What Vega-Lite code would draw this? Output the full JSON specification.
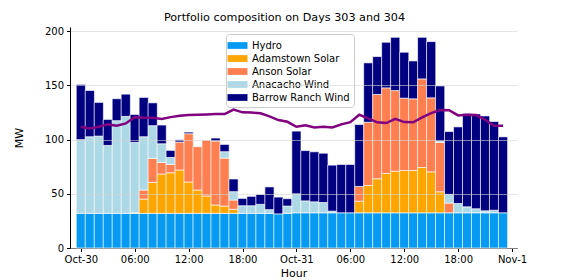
{
  "$schema": "https://vega.github.io/schema/vega-lite/v6.json",
  "width": 447,
  "height": 221,
  "autosize": "none",
  "padding": {"left": 70, "top": 27, "right": 51, "bottom": 32},
  "background": "white",
  "config": {
    "font": "DejaVu Sans",
    "view": {"stroke": null},
    "axis": {"labelFont": "DejaVu Sans", "titleFont": "DejaVu Sans", "labelFontSize": 10, "titleFontSize": 11, "titleFontWeight": "normal", "labelColor": "black", "titleColor": "black", "domainColor": "black", "tickColor": "black", "tickSize": 3.5, "labelPadding": 3},
    "legend": {"labelFont": "DejaVu Sans", "labelFontSize": 10, "labelColor": "black"}
  },
  "title": {"text": "Portfolio composition on Days 303 and 304", "fontSize": 11.2, "font": "DejaVu Sans", "fontWeight": "normal", "color": "black", "anchor": "middle", "dx": -9, "offset": 3},
  "datasets": {
    "gen": [
      {"h":0,"s":"Hydro","mw":32},{"h":0,"s":"Anacacho Wind","mw":68},{"h":0,"s":"Barrow Ranch Wind","mw":51},
      {"h":1,"s":"Hydro","mw":32},{"h":1,"s":"Anacacho Wind","mw":70.7},{"h":1,"s":"Barrow Ranch Wind","mw":42.7},
      {"h":2,"s":"Hydro","mw":32},{"h":2,"s":"Anacacho Wind","mw":71.3},{"h":2,"s":"Barrow Ranch Wind","mw":31.1},
      {"h":3,"s":"Hydro","mw":32},{"h":3,"s":"Anacacho Wind","mw":62.7},{"h":3,"s":"Barrow Ranch Wind","mw":24},
      {"h":4,"s":"Hydro","mw":32},{"h":4,"s":"Anacacho Wind","mw":85.5},{"h":4,"s":"Barrow Ranch Wind","mw":20.3},
      {"h":5,"s":"Hydro","mw":32},{"h":5,"s":"Anacacho Wind","mw":89.5},{"h":5,"s":"Barrow Ranch Wind","mw":20.5},
      {"h":6,"s":"Hydro","mw":32},{"h":6,"s":"Adamstown Solar","mw":0.5},{"h":6,"s":"Anacacho Wind","mw":65},{"h":6,"s":"Barrow Ranch Wind","mw":25.8},
      {"h":7,"s":"Hydro","mw":32},{"h":7,"s":"Adamstown Solar","mw":13.2},{"h":7,"s":"Anson Solar","mw":8.3},{"h":7,"s":"Anacacho Wind","mw":49.2},{"h":7,"s":"Barrow Ranch Wind","mw":36.3},
      {"h":8,"s":"Hydro","mw":32},{"h":8,"s":"Adamstown Solar","mw":28.6},{"h":8,"s":"Anson Solar","mw":22.1},{"h":8,"s":"Anacacho Wind","mw":30.2},{"h":8,"s":"Barrow Ranch Wind","mw":21.1},
      {"h":9,"s":"Hydro","mw":32},{"h":9,"s":"Adamstown Solar","mw":36.3},{"h":9,"s":"Anson Solar","mw":10.7},{"h":9,"s":"Anacacho Wind","mw":17.2},{"h":9,"s":"Barrow Ranch Wind","mw":17.3},
      {"h":10,"s":"Hydro","mw":32},{"h":10,"s":"Adamstown Solar","mw":37.5},{"h":10,"s":"Anson Solar","mw":7.7},{"h":10,"s":"Anacacho Wind","mw":6.4},{"h":10,"s":"Barrow Ranch Wind","mw":6.5},
      {"h":11,"s":"Hydro","mw":32},{"h":11,"s":"Adamstown Solar","mw":40},{"h":11,"s":"Anson Solar","mw":25.8},{"h":11,"s":"Barrow Ranch Wind","mw":2.1},
      {"h":12,"s":"Hydro","mw":32},{"h":12,"s":"Adamstown Solar","mw":28.9},{"h":12,"s":"Anson Solar","mw":44.6},{"h":12,"s":"Barrow Ranch Wind","mw":1.5},
      {"h":13,"s":"Hydro","mw":32},{"h":13,"s":"Adamstown Solar","mw":21.5},{"h":13,"s":"Anson Solar","mw":40},
      {"h":14,"s":"Hydro","mw":32},{"h":14,"s":"Adamstown Solar","mw":16},{"h":14,"s":"Anson Solar","mw":51.6},
      {"h":15,"s":"Hydro","mw":32},{"h":15,"s":"Adamstown Solar","mw":7.7},{"h":15,"s":"Anson Solar","mw":59},{"h":15,"s":"Barrow Ranch Wind","mw":2.8},
      {"h":16,"s":"Hydro","mw":32},{"h":16,"s":"Adamstown Solar","mw":6.7},{"h":16,"s":"Anson Solar","mw":44.3},{"h":16,"s":"Anacacho Wind","mw":5.9},{"h":16,"s":"Barrow Ranch Wind","mw":6.7},
      {"h":17,"s":"Hydro","mw":32},{"h":17,"s":"Adamstown Solar","mw":3.7},{"h":17,"s":"Anson Solar","mw":8.6},{"h":17,"s":"Anacacho Wind","mw":7.7},{"h":17,"s":"Barrow Ranch Wind","mw":11.7},
      {"h":18,"s":"Hydro","mw":32},{"h":18,"s":"Anacacho Wind","mw":7},{"h":18,"s":"Barrow Ranch Wind","mw":6.8},
      {"h":19,"s":"Hydro","mw":32},{"h":19,"s":"Anacacho Wind","mw":7},{"h":19,"s":"Barrow Ranch Wind","mw":8.7},
      {"h":20,"s":"Hydro","mw":32},{"h":20,"s":"Anacacho Wind","mw":8.3},{"h":20,"s":"Barrow Ranch Wind","mw":9.2},
      {"h":21,"s":"Hydro","mw":32},{"h":21,"s":"Anacacho Wind","mw":3.4},{"h":21,"s":"Barrow Ranch Wind","mw":21},
      {"h":22,"s":"Hydro","mw":31.5},{"h":22,"s":"Barrow Ranch Wind","mw":15.5},
      {"h":23,"s":"Hydro","mw":32},{"h":23,"s":"Anacacho Wind","mw":6.7},{"h":23,"s":"Barrow Ranch Wind","mw":6.8},
      {"h":24,"s":"Hydro","mw":32.5},{"h":24,"s":"Anacacho Wind","mw":17.5},{"h":24,"s":"Barrow Ranch Wind","mw":57.9},
      {"h":25,"s":"Hydro","mw":32.5},{"h":25,"s":"Anacacho Wind","mw":11},{"h":25,"s":"Barrow Ranch Wind","mw":46.4},
      {"h":26,"s":"Hydro","mw":32.5},{"h":26,"s":"Anacacho Wind","mw":10.1},{"h":26,"s":"Barrow Ranch Wind","mw":46.2},
      {"h":27,"s":"Hydro","mw":32.5},{"h":27,"s":"Anacacho Wind","mw":9.5},{"h":27,"s":"Barrow Ranch Wind","mw":45.5},
      {"h":28,"s":"Hydro","mw":32.5},{"h":28,"s":"Anacacho Wind","mw":1.5},{"h":28,"s":"Barrow Ranch Wind","mw":42.5},
      {"h":29,"s":"Hydro","mw":32.5},{"h":29,"s":"Barrow Ranch Wind","mw":44.6},
      {"h":30,"s":"Hydro","mw":32.5},{"h":30,"s":"Barrow Ranch Wind","mw":44.6},
      {"h":31,"s":"Hydro","mw":32.5},{"h":31,"s":"Adamstown Solar","mw":10.7},{"h":31,"s":"Anson Solar","mw":13.6},{"h":31,"s":"Barrow Ranch Wind","mw":57.2},
      {"h":32,"s":"Hydro","mw":32.5},{"h":32,"s":"Adamstown Solar","mw":25.2},{"h":32,"s":"Anson Solar","mw":58.4},{"h":32,"s":"Barrow Ranch Wind","mw":54.8},
      {"h":33,"s":"Hydro","mw":32.5},{"h":33,"s":"Adamstown Solar","mw":31.4},{"h":33,"s":"Anson Solar","mw":77.8},{"h":33,"s":"Barrow Ranch Wind","mw":35},
      {"h":34,"s":"Hydro","mw":32.5},{"h":34,"s":"Adamstown Solar","mw":36.3},{"h":34,"s":"Anson Solar","mw":79},{"h":34,"s":"Barrow Ranch Wind","mw":42.1},
      {"h":35,"s":"Hydro","mw":32.5},{"h":35,"s":"Adamstown Solar","mw":38.4},{"h":35,"s":"Anson Solar","mw":74.4},{"h":35,"s":"Barrow Ranch Wind","mw":49.2},
      {"h":36,"s":"Hydro","mw":32.5},{"h":36,"s":"Adamstown Solar","mw":39},{"h":36,"s":"Anson Solar","mw":66.8},{"h":36,"s":"Barrow Ranch Wind","mw":42.4},
      {"h":37,"s":"Hydro","mw":32.5},{"h":37,"s":"Adamstown Solar","mw":39},{"h":37,"s":"Anson Solar","mw":66.2},{"h":37,"s":"Barrow Ranch Wind","mw":35},
      {"h":38,"s":"Hydro","mw":32.5},{"h":38,"s":"Adamstown Solar","mw":41.8},{"h":38,"s":"Anson Solar","mw":81.8},{"h":38,"s":"Barrow Ranch Wind","mw":38.4},
      {"h":39,"s":"Hydro","mw":32.5},{"h":39,"s":"Adamstown Solar","mw":37.8},{"h":39,"s":"Anson Solar","mw":68.3},{"h":39,"s":"Barrow Ranch Wind","mw":51.9},
      {"h":40,"s":"Hydro","mw":32.5},{"h":40,"s":"Adamstown Solar","mw":19.4},{"h":40,"s":"Anson Solar","mw":45.5},{"h":40,"s":"Anacacho Wind","mw":1.2},{"h":40,"s":"Barrow Ranch Wind","mw":51},
      {"h":41,"s":"Hydro","mw":32.5},{"h":41,"s":"Anson Solar","mw":9},{"h":41,"s":"Anacacho Wind","mw":8},{"h":41,"s":"Barrow Ranch Wind","mw":58},
      {"h":42,"s":"Hydro","mw":32.5},{"h":42,"s":"Anacacho Wind","mw":8.6},{"h":42,"s":"Barrow Ranch Wind","mw":70.7},
      {"h":43,"s":"Hydro","mw":32.5},{"h":43,"s":"Anacacho Wind","mw":5.5},{"h":43,"s":"Barrow Ranch Wind","mw":86.1},
      {"h":44,"s":"Hydro","mw":32.5},{"h":44,"s":"Anacacho Wind","mw":3.7},{"h":44,"s":"Barrow Ranch Wind","mw":87.6},
      {"h":45,"s":"Hydro","mw":32.5},{"h":45,"s":"Anacacho Wind","mw":1.8},{"h":45,"s":"Barrow Ranch Wind","mw":87.6},
      {"h":46,"s":"Hydro","mw":32.5},{"h":46,"s":"Anacacho Wind","mw":2.4},{"h":46,"s":"Barrow Ranch Wind","mw":81.8},
      {"h":47,"s":"Hydro","mw":32.5},{"h":47,"s":"Barrow Ranch Wind","mw":70.1}
    ],
    "load": [
      {"h":0,"v":111.9},{"h":1,"v":110.4},{"h":2,"v":111.9},{"h":3,"v":114.1},{"h":4,"v":112.9},{"h":5,"v":115},
      {"h":6,"v":120.8},{"h":7,"v":120.2},{"h":8,"v":120.2},{"h":9,"v":119},{"h":10,"v":120.8},{"h":11,"v":122},
      {"h":12,"v":122.7},{"h":13,"v":123},{"h":14,"v":123.3},{"h":15,"v":123.6},{"h":16,"v":123.6},{"h":17,"v":127.8},
      {"h":18,"v":125.2},{"h":19,"v":125},{"h":20,"v":124.4},{"h":21,"v":121.5},{"h":22,"v":118.1},{"h":23,"v":116.5},
      {"h":24,"v":111.9},{"h":25,"v":113.2},{"h":26,"v":111.3},{"h":27,"v":111.9},{"h":28,"v":111.3},{"h":29,"v":114.1},
      {"h":30,"v":116.2},{"h":31,"v":123},{"h":32,"v":119.6},{"h":33,"v":116},{"h":34,"v":115.3},{"h":35,"v":119.3},
      {"h":36,"v":116.2},{"h":37,"v":116},{"h":38,"v":120.5},{"h":39,"v":124.5},{"h":40,"v":127.4},{"h":41,"v":127.2},
      {"h":42,"v":122.4},{"h":43,"v":123},{"h":44,"v":122.7},{"h":45,"v":118.4},{"h":46,"v":112.9},{"h":47,"v":112.9}
    ]
  },
  "layer": [
    {
      "data": {"name": "gen"},
      "transform": [
        {"calculate": "indexof(['Hydro', 'Adamstown Solar', 'Anson Solar', 'Anacacho Wind', 'Barrow Ranch Wind'], datum.s)", "as": "rank"}
      ],
      "mark": {"type": "bar", "width": 9.19, "stroke": "white", "strokeWidth": 0.8, "strokeOpacity": 0.8},
      "encoding": {
        "x": {"field": "h", "type": "quantitative", "scale": {"domain": [-0.65, 48], "nice": false, "zero": false},
              "axis": {"title": "Hour", "titlePadding": 3, "grid": false, "values": [0, 6, 12, 18, 24, 30, 36, 42, 48],
                       "labelExpr": "datum.value == 0 ? 'Oct-30' : datum.value == 24 ? 'Oct-31' : datum.value == 48 ? 'Nov-1' : (datum.value % 24 == 6 ? '06:00' : datum.value % 24 == 12 ? '12:00' : '18:00')"}},
        "y": {"field": "mw", "type": "quantitative", "stack": "zero", "scale": {"domain": [0, 204], "nice": false},
              "axis": {"title": "MW", "titlePadding": 20, "values": [0, 25, 50, 75, 100, 125, 150, 175, 200], "grid": true, "gridColor": "#d3d3d3", "gridOpacity": 0.6, "zindex": 1}},
        "order": {"field": "rank", "type": "quantitative", "sort": "ascending"},
        "color": {"field": "s", "type": "nominal",
                  "scale": {"domain": ["Hydro", "Adamstown Solar", "Anson Solar", "Anacacho Wind", "Barrow Ranch Wind"],
                            "range": ["#069af3", "#ffa500", "#ff7f50", "#add8e6", "#000080"]},
                  "legend": {"title": null, "orient": "none", "legendX": 156, "legendY": 7,
                             "fillColor": "white", "strokeColor": "#cccccc", "cornerRadius": 3, "padding": 4,
                             "symbolType": "M-1.33,-0.45H1.33V0.45H-1.33Z", "symbolSize": 225, "symbolStrokeWidth": 0, "symbolOpacity": 1,
                             "rowPadding": 0, "labelOffset": 7, "labelFontSize": 10}}
      }
    },
    {
      "data": {"name": "load"},
      "mark": {"type": "line", "color": "#800080", "strokeWidth": 2.5},
      "encoding": {
        "x": {"field": "h", "type": "quantitative"},
        "y": {"field": "v", "type": "quantitative"}
      }
    }
  ]
}
